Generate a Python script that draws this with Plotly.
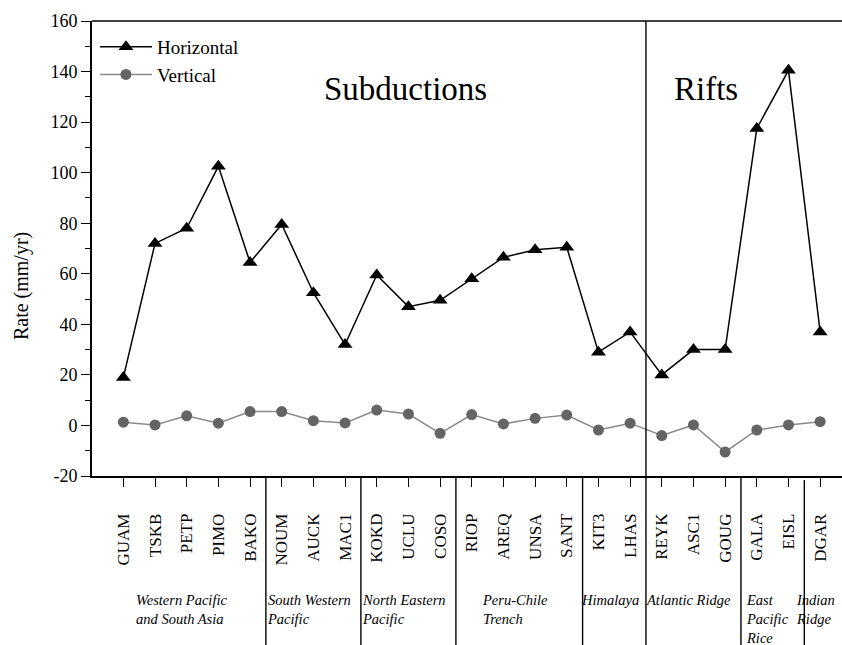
import plotly.graph_objects as go

stations = ["GUAM", "TSKB", "PETP", "PIMO", "BAKO", "NOUM", "AUCK", "MAC1", "KOKD", "UCLU",
            "COSO", "RIOP", "AREQ", "UNSA", "SANT", "KIT3", "LHAS", "REYK", "ASC1", "GOUG",
            "GALA", "EISL", "DGAR"]
horizontal = [19, 72, 78, 102.5, 64.5, 79.5, 52.5, 32, 59.5, 47, 49.5, 58, 66.5, 69.5, 70.5,
              29, 37, 20, 30, 30, 117.5, 140.5, 37]
vertical = [1.3, 0.2, 3.8, 0.9, 5.5, 5.5, 1.9, 1.0, 6.1, 4.5, -3.1, 4.3, 0.6, 2.8, 4.1,
            -1.8, 0.9, -4.0, 0.2, -10.5, -1.8, 0.2, 1.5]
group_names = ["Western Pacific<br>and South Asia", "South Western<br>Pacific",
               "North Eastern<br>Pacific", "Peru-Chile<br>Trench", "Himalaya",
               "Atlantic Ridge", "East<br>Pacific<br>Rice", "Indian<br>Ridge"]
group_sizes = [5, 3, 3, 4, 2, 3, 2, 1]
zone_names = ["Subductions", "Rifts"]
zone_group_counts = [5, 3]
y_ticks = [-20, 0, 20, 40, 60, 80, 100, 120, 140, 160]
y_ticklabels = ["-20", "0", "20", "40", "60", "80", "100", "120", "140", "160"]
y_title = "Rate (mm/yr)"

FONT = "Liberation Serif, Times New Roman, serif"
idx = list(range(len(stations)))

fig = go.Figure()
fig.add_trace(go.Scatter(
    x=idx, y=horizontal, name="Horizontal", mode="lines+markers",
    line=dict(color="black", width=1.5),
    marker=dict(symbol="triangle-up", size=13, color="black"),
))
fig.add_trace(go.Scatter(
    x=idx, y=vertical, name="Vertical", mode="lines+markers",
    line=dict(color="#8a8a8a", width=1.5),
    marker=dict(symbol="circle", size=11, color="#646464"),
))

shapes = []
annotations = []
start = 0
bottom = -0.38
zone_boundary = sum(group_sizes[:zone_group_counts[0]]) - 0.5
for gi, (name, size) in enumerate(zip(group_names, group_sizes)):
    end = start + size - 1
    center = (start + end) / 2
    annotations.append(dict(
        x=center - 0.15, y=-0.25, xref="x", yref="paper", text="<i>%s</i>" % name,
        showarrow=False, xanchor="center", yanchor="top", align="left",
        font=dict(family=FONT, size=14.5, color="black"),
    ))
    if gi < len(group_sizes) - 1:
        bx = end + 0.5
        if bx == zone_boundary:
            y1 = 1
        elif gi < len(group_sizes) - 2:
            y1 = 0
        else:
            y1 = -0.009
        shapes.append(dict(type="line", xref="x", yref="paper", x0=bx, x1=bx,
                           y0=bottom, y1=y1, line=dict(color="black", width=1.4)))
    start = end + 1

# top border
shapes.append(dict(type="line", xref="paper", yref="paper", x0=0, x1=1, y0=1, y1=1,
                   line=dict(color="black", width=1.4)))

# zone labels
annotations.append(dict(x=8.9, y=133, xref="x", yref="y", text=zone_names[0], showarrow=False,
                        font=dict(family=FONT, size=33, color="black")))
annotations.append(dict(x=18.4, y=133, xref="x", yref="y", text=zone_names[1], showarrow=False,
                        font=dict(family=FONT, size=33, color="black")))
# y-axis title (placed lower than centre, as in the reference)
annotations.append(dict(x=-0.093, y=0.418, xref="paper", yref="paper", text=y_title,
                        textangle=-90, showarrow=False, xanchor="center", yanchor="middle",
                        font=dict(family=FONT, size=20, color="black")))

fig.update_layout(
    width=842, height=645,
    margin=dict(l=92, r=0, t=21, b=169),
    paper_bgcolor="white", plot_bgcolor="white",
    font=dict(family=FONT, color="black", size=18),
    showlegend=True,
    legend=dict(x=0.004, y=0.985, xanchor="left", yanchor="top", bgcolor="rgba(0,0,0,0)",
                font=dict(family=FONT, size=19, color="black"), tracegroupgap=0,
                itemwidth=52),
    shapes=shapes,
    annotations=annotations,
    xaxis=dict(
        range=[-0.99, 22.69], tickmode="array", tickvals=idx, ticktext=stations,
        tickangle=-90, ticks="outside", ticklen=9, tickwidth=1.4, tickcolor="black",
        showline=True, linecolor="black", linewidth=1.6, showgrid=False, zeroline=False,
        tickfont=dict(family=FONT, size=17, color="black"), ticklabelstandoff=20,
    ),
    yaxis=dict(
        range=[-20, 160], tickmode="array", tickvals=y_ticks, ticktext=y_ticklabels,
        ticks="outside", ticklen=9, tickwidth=1.4, tickcolor="black",
        minor=dict(dtick=10, ticks="outside", ticklen=5, tickwidth=1.4, tickcolor="black"),
        showline=True, linecolor="black", linewidth=1.6, showgrid=False, zeroline=False,
        tickfont=dict(family=FONT, size=18, color="black"),
    ),
)

fig.write_html("out.html", config={"displayModeBar": False},
               post_script="document.body.style.margin='0px';")
